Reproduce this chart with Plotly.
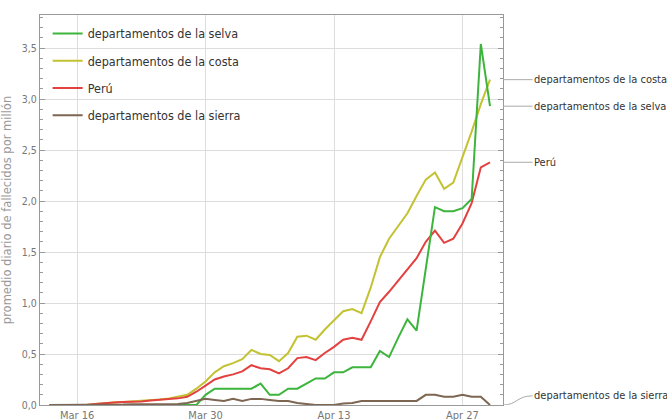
import pandas as pd
import plotly.graph_objects as go

dates = pd.date_range("2020-03-13", "2020-04-30", freq="D")

selva = [0, 0, 0, 0, 0, 0, 0, 0, 0, 0, 0, 0, 0, 0, 0, 0, 0.0,
         0.10, 0.16, 0.16, 0.16, 0.16, 0.16, 0.21, 0.10, 0.10, 0.16, 0.16,
         0.21, 0.26, 0.26, 0.32, 0.32, 0.37, 0.37, 0.37, 0.53, 0.47, 0.66,
         0.84, 0.73, 1.33, 1.94, 1.90, 1.90, 1.93, 2.02, 3.54, 2.93]
costa = [0, 0, 0, 0, 0, 0.01, 0.02, 0.025, 0.03, 0.035, 0.04, 0.05, 0.055,
         0.065, 0.08, 0.10, 0.16, 0.23, 0.32, 0.38, 0.41, 0.45, 0.54, 0.50,
         0.49, 0.43, 0.51, 0.67, 0.68, 0.64, 0.74, 0.83, 0.92, 0.94, 0.90,
         1.15, 1.45, 1.63, 1.75, 1.88, 2.05, 2.21, 2.28, 2.12, 2.18, 2.42,
         2.68, 2.95, 3.19]
peru = [0, 0, 0, 0, 0, 0.01, 0.02, 0.025, 0.03, 0.03, 0.035, 0.045, 0.05,
        0.055, 0.065, 0.08, 0.13, 0.19, 0.25, 0.28, 0.30, 0.33, 0.39, 0.36,
        0.35, 0.31, 0.36, 0.46, 0.47, 0.44, 0.51, 0.57, 0.64, 0.66, 0.64,
        0.82, 1.01, 1.11, 1.22, 1.33, 1.44, 1.60, 1.71, 1.59, 1.63, 1.78,
        1.98, 2.33, 2.38]
sierra = [0, 0, 0, 0, 0, 0, 0, 0.005, 0.005, 0.008, 0.008, 0.01, 0.01,
          0.01, 0.01, 0.02, 0.04, 0.06, 0.05, 0.04, 0.06, 0.04, 0.06, 0.06,
          0.05, 0.04, 0.04, 0.02, 0.01, 0.0, 0.0, 0.0, 0.015, 0.02, 0.04,
          0.04, 0.04, 0.04, 0.04, 0.04, 0.04, 0.10, 0.10, 0.08, 0.08, 0.10,
          0.08, 0.08, 0.0]

names = ["departamentos de la selva", "departamentos de la costa", "Perú",
         "departamentos de la sierra"]
colors = ["#3db53d", "#c3c232", "#e3413f", "#7d6652"]

x_tick_vals = ["2020-03-16", "2020-03-30", "2020-04-13", "2020-04-27"]
x_tick_labels = ["Mar 16", "Mar 30", "Apr 13", "Apr 27"]

FONT = "DejaVu Sans Condensed, Roboto, sans-serif"

fig = go.Figure()
series = [selva, costa, peru, sierra]
draw_order = [1, 2, 0, 3]
for i in draw_order:
    fig.add_trace(go.Scatter(
        x=dates, y=series[i], mode="lines", name=names[i],
        line=dict(color=colors[i], width=2),
        legendrank=i + 1, legendgroup=str(i),
    ))

# right-side labels
ends = [(selva[-1], names[0]), (costa[-1], names[1]), (peru[-1], names[2])]
for val, txt in ends:
    fig.add_shape(type="line", xref="paper", yref="y", x0=1.0, x1=1.064,
                  y0=val, y1=val, line=dict(color="#aaaaaa", width=1))
    fig.add_annotation(x=1.066, y=val, xref="paper", yref="y", text=txt,
                       showarrow=False, xanchor="left", yanchor="middle",
                       xshift=-2,
                       font=dict(family=FONT, size=11, color="#333333"))
sierra_lab = sierra[-1] + 0.09
fig.add_shape(type="path", xref="paper", yref="y",
              path=f"M 1.0,{sierra[-1]} C 1.03,{sierra[-1]} 1.03,{sierra_lab} 1.064,{sierra_lab}",
              line=dict(color="#aaaaaa", width=1))
fig.add_annotation(x=1.066, y=sierra_lab, xref="paper", yref="y", text=names[3],
                   showarrow=False, xanchor="left", yanchor="middle", xshift=-2,
                   font=dict(family=FONT, size=11, color="#333333"))

fig.update_layout(
    width=667, height=420,
    margin=dict(l=40, r=164, t=15, b=15, autoexpand=False),
    plot_bgcolor="white", paper_bgcolor="white",
    separators=",.",
    showlegend=True,
    legend=dict(x=0.0165, y=0.99, xanchor="left", yanchor="top",
                bgcolor="rgba(255,255,255,0)", tracegroupgap=8,
                font=dict(family=FONT, size=12.5, color="#333333")),
    xaxis=dict(
        range=["2020-03-11 23:00", "2020-05-01 10:00"],
        tickvals=x_tick_vals, ticktext=x_tick_labels,
        showgrid=True, gridcolor="#dddddd", gridwidth=1,
        showline=True, linecolor="#999999", mirror=True,
        ticks="", zeroline=False, automargin=False,
        tickfont=dict(family=FONT, size=11, color="#777777"),
    ),
    yaxis=dict(
        range=[0, 3.824], dtick=0.5, tick0=0, tickformat=".1f",
        showgrid=True, gridcolor="#dddddd", gridwidth=1,
        showline=True, linecolor="#999999", mirror="allticks",
        ticks="inside", ticklen=5, tickcolor="#999999",
        minor=dict(dtick=0.1, ticks="inside", ticklen=3, tickcolor="#999999", showgrid=False),
        zeroline=False, automargin=False,
        tickfont=dict(family=FONT, size=10.5, color="#777777"),
        title=dict(text="promedio diario de fallecidos por millón", standoff=7,
                   font=dict(family="DejaVu Sans, sans-serif", size=11.5, color="#999999")),
    ),
)

# remove the default page margin so the figure fills the 667x420 window
fig.write_html("out.html", config={"displayModeBar": False},
               post_script="document.body.style.margin='0';")
